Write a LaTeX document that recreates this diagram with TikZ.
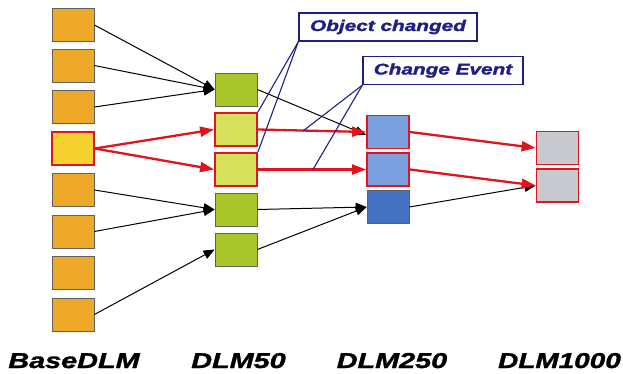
\documentclass[tikz,border=0pt]{standalone}
\usepackage{fontspec}
\setmainfont{Liberation Sans}
\newfontfamily\heavyfont[BoldItalicFeatures={FakeBold=1.3}]{Liberation Sans}
\usetikzlibrary{arrows.meta}
\definecolor{orangebox}{HTML}{EFA928}
\definecolor{yellowbox}{HTML}{F7D12E}
\definecolor{greenbox}{HTML}{A8C62A}
\definecolor{lgreenbox}{HTML}{D5E15A}
\definecolor{lbluebox}{HTML}{7BA0DE}
\definecolor{dbluebox}{HTML}{4472C0}
\definecolor{graybox}{HTML}{C8CAD0}
\definecolor{redline}{HTML}{E0141E}
\definecolor{navy}{HTML}{1E1E84}
\definecolor{boxedge}{HTML}{606060}
\begin{document}
\begin{tikzpicture}[x=1pt,y=-1pt,
  cell/.style={minimum width=42pt,minimum height=33pt,inner sep=0pt,draw=boxedge,line width=0.8pt},
  redcell/.style={cell,draw=redline,line width=1.8pt},
  blk/.style={draw=black,line width=1pt,-{Triangle[length=11pt,width=9pt]}},
  red/.style={draw=redline,line width=2.3pt,-{Triangle[length=14pt,width=10pt]}},
  callout/.style={draw=navy,line width=1.1pt},
  lbl/.style={draw=navy,line width=1.2pt,fill=white,minimum height=28pt,inner sep=0pt,
    text=navy,font=\heavyfont\bfseries\itshape\fontsize{15.5}{16}\selectfont},
  col/.style={anchor=base,font=\heavyfont\bfseries\itshape\fontsize{21.5}{22}\selectfont}]
\useasboundingbox (0,0) rectangle (623,374);
% base column
\node[cell,fill=orangebox] (b1) at (73,24.5) {};
\node[cell,fill=orangebox] (b2) at (73,65.5) {};
\node[cell,fill=orangebox] (b3) at (73,107) {};
\node[redcell,fill=yellowbox] (b4) at (73,148.5) {};
\node[cell,fill=orangebox] (b5) at (73,190) {};
\node[cell,fill=orangebox] (b6) at (73,231.5) {};
\node[cell,fill=orangebox] (b7) at (73,273) {};
\node[cell,fill=orangebox] (b8) at (73,314.5) {};
% DLM50
\node[cell,fill=greenbox] (c1) at (236,89.5) {};
\node[redcell,fill=lgreenbox] (c2) at (236,129.5) {};
\node[redcell,fill=lgreenbox] (c3) at (236,169.5) {};
\node[cell,fill=greenbox] (c4) at (236,209.5) {};
\node[cell,fill=greenbox] (c5) at (236,249.5) {};
% DLM250
\node[redcell,fill=lbluebox] (d1) at (388,132) {};
\node[redcell,fill=lbluebox] (d2) at (388,169.5) {};
\node[cell,fill=dbluebox] (d3) at (388,207) {};
% DLM1000
\node[redcell,fill=graybox] (e1) at (557.5,148) {};
\node[redcell,fill=graybox] (e2) at (557.5,185.5) {};
% black arrows
\draw[blk] ([yshift=-0.5pt]b1.east) -- (c1.west);
\draw[blk] (b2.east) -- (c1.west);
\draw[blk] (b3.east) -- (c1.west);
\draw[blk] (c1.east) -- ([yshift=-3pt]d1.west);
\draw[blk] (b5.east) -- (c4.west);
\draw[blk] (b6.east) -- (c4.west);
\draw[blk] (b8.east) -- (c5.west);
\draw[blk] (c4.east) -- (d3.west);
\draw[blk] (c5.east) -- (d3.west);
\draw[blk] (d3.east) -- (e2.west);
% red arrows
\draw[red] (b4.east) -- (c2.west);
\draw[red] (b4.east) -- (c3.west);
\draw[red] (c2.east) -- (d1.west);
\draw[red] (c3.east) -- (d2.west);
\draw[red] (d1.east) -- (e1.west);
\draw[red] (d2.east) -- (e2.west);
% callouts
\node[lbl,minimum width=178pt] (oc) at (388,27) {\scalebox{1.34}[1]{Object changed}};
\node[lbl,minimum width=160pt] (ce) at (443,70.5) {\scalebox{1.34}[1]{Change Event}};
\coordinate (p1) at (303,131);
\coordinate (p2) at (313,169.5);
\draw[callout] (oc.south west) -- (c2.north east);
\draw[callout] (oc.south west) -- (c3.north east);
\draw[callout] (ce.south west) -- (p1);
\draw[callout] (ce.south west) -- (p2);
% column labels
\node[col] (t1) at (74,368) {\scalebox{1.34}[1]{BaseDLM}};
\node[col] (t2) at (238.5,368) {\scalebox{1.34}[1]{DLM50}};
\node[col] (t3) at (392,368) {\scalebox{1.34}[1]{DLM250}};
\node[col] (t4) at (559.5,368) {\scalebox{1.3}[1]{DLM1000}};
\end{tikzpicture}
\end{document}
